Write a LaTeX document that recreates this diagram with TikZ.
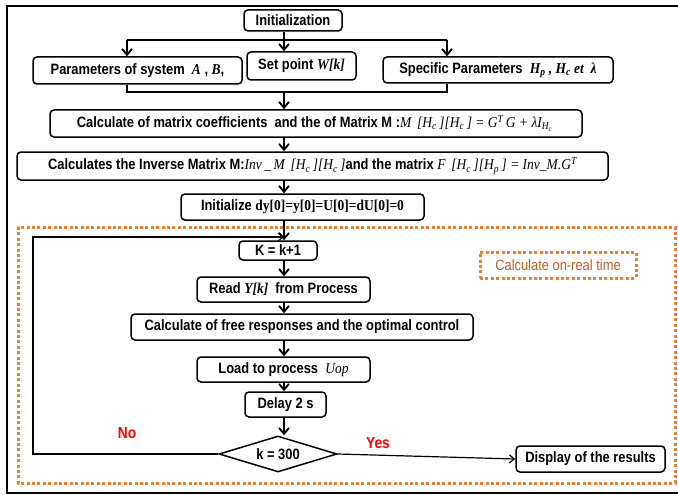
\documentclass[tikz,border=0pt]{standalone}
\usepackage{fontspec}
\setmainfont{Liberation Sans}[FakeStretch=0.86]
\newfontfamily\tnr{Liberation Serif}[FakeStretch=0.9]
\usetikzlibrary{arrows.meta,shapes.geometric}
\definecolor{orng}{RGB}{237,125,49}
\definecolor{brn}{RGB}{185,95,40}
\newcommand{\ti}[1]{{\tnr\itshape #1}}
\newcommand{\tm}[1]{{\tnr\itshape\mdseries #1}}
\begin{document}
\begin{tikzpicture}[x=1pt,y=-1pt,
  font=\fontsize{15}{17}\selectfont\bfseries,
  box/.style={draw,line width=1.5pt,rounded corners=4pt,inner sep=0pt,align=center},
  arr/.style={line width=1.8pt,-{Straight Barb[length=6pt,width=10pt,line width=1.8pt]}},
  thinarr/.style={line width=1.2pt,-{Straight Barb[length=5pt,width=8pt,line width=1.2pt]}},
  conn/.style={line width=1.5pt},
  dots/.style={orng,line width=3pt,dash pattern=on 3pt off 2.4pt},
  lbl/.style={text=red,font=\fontsize{16}{18}\selectfont\bfseries,inner sep=0pt}]
\useasboundingbox (0,0) rectangle (678,495);
\clip (0,0) rectangle (678,495);
% outer frame
\draw[line width=2.8pt] (700,6) -- (7,6) -- (7,493) -- (700,493);
% orange dotted region
\draw[dots] (18,227) rectangle (675,483);

% nodes
\node[box,minimum width=98,minimum height=21] (init) at (293,20.5) {Initialization};
\node[box,minimum width=209,minimum height=27] (params) at (137.5,70.5) {Parameters of system\ \ \ti{A} , \ti{B},};
\node[box,minimum width=109,minimum height=28] (setpt) at (301.5,66) {Set point \ti{W[k]}};
\node[box,minimum width=230,minimum height=26] (spec) at (498,70) {Specific Parameters\ \ \ti{H\textsubscript{p} , H\textsubscript{c} et\ \ λ}};
\node[box,minimum width=532,minimum height=27] (calc) at (316,123.5) {Calculate of matrix coefficients\ \ and the of Matrix M :\tm{M\, [H\textsubscript{c}\,][H\textsubscript{c}\,] = G\textsuperscript{T}\,G + λI\textsubscript{H\textsubscript{c}}}\,};
\node[box,minimum width=591,minimum height=28] (inv) at (312.5,166) {Calculates the Inverse Matrix M:\tm{Inv\,\_\,M\, [H\textsubscript{c}\,][H\textsubscript{c}\,]}and the matrix \tm{F\, [H\textsubscript{c}\,][H\textsubscript{p}\,] = Inv\_M.G\textsuperscript{T}}};
\node[box,minimum width=243,minimum height=26] (initz) at (302.5,207) {Initialize {\tnr dy[0]=y[0]=U[0]=dU[0]=0}};
\node[box,minimum width=78,minimum height=19] (kinc) at (278,250.5) {K = k+1};
\node[box,minimum width=173,minimum height=25] (read) at (283.5,289.5) {Read \ti{Y[k]}\ \ from Process};
\node[box,minimum width=342,minimum height=26] (free) at (302,327) {Calculate of free responses and the optimal control};
\node[box,minimum width=173,minimum height=25] (load) at (283.5,369.5) {Load to process\ \ \tm{Uop}};
\node[box,minimum width=81,minimum height=25] (delay) at (285.5,404.5) {Delay 2 s};
\node[draw,diamond,line width=1.5pt,inner sep=0.5pt,aspect=3.2,minimum width=118,minimum height=36] (dec) at (278,454) {k = 300};
\node[box,minimum width=149,minimum height=26] (disp) at (590.5,459) {Display of the results};
\node[dots,draw,inner sep=0pt,minimum width=156,minimum height=26,text=brn,font=\fontsize{15}{17}\selectfont] (rt) at (558,265) {Calculate on-real time};
\node[lbl] (no) at (127,433) {No};
\node[lbl] (yes) at (378,443) {Yes};

% helper coordinates
\coordinate (sx) at (284,0);
\coordinate (b1) at (127,40);
\coordinate (b2) at (284,40);
\coordinate (b3) at (447,40);
\coordinate (j1) at (127,92);
\coordinate (j2) at (284,92);
\coordinate (j3) at (447,92);
\coordinate (lp1) at (33,454);
\coordinate (lp2) at (33,237);
\coordinate (lp3) at (284,237);

% connectors
\draw[conn] (init.south -| sx) -- (b2);
\draw[conn] (b1) -- (b3);
\draw[arr] (b1) -- (b1 |- params.north);
\draw[arr] (b2) -- (b2 |- setpt.north);
\draw[arr] (b3) -- (b3 |- spec.north);
\draw[conn] (params.south -| j1) -- (j1) -- (j3) -- (spec.south -| j3);
\draw[arr] (j2) -- (j2 |- calc.north);
\draw[arr] (calc.south -| sx) -- (inv.north -| sx);
\draw[arr] (inv.south -| sx) -- (initz.north -| sx);
\draw[arr] (initz.south -| sx) -- (kinc.north -| sx);
\draw[arr] (kinc.south -| sx) -- (read.north -| sx);
\draw[arr] (read.south -| sx) -- (free.north -| sx);
\draw[arr] (free.south -| sx) -- (load.north -| sx);
\draw[arr] (load.south -| sx) -- (delay.north -| sx);
\draw[arr] (delay.south -| sx) -- (dec.north -| sx);
\draw[thinarr] (dec.west) -- (lp1) -- (lp2) -- (lp3);
\draw[thinarr] (dec.east) -- (disp.west);
\end{tikzpicture}
\end{document}
